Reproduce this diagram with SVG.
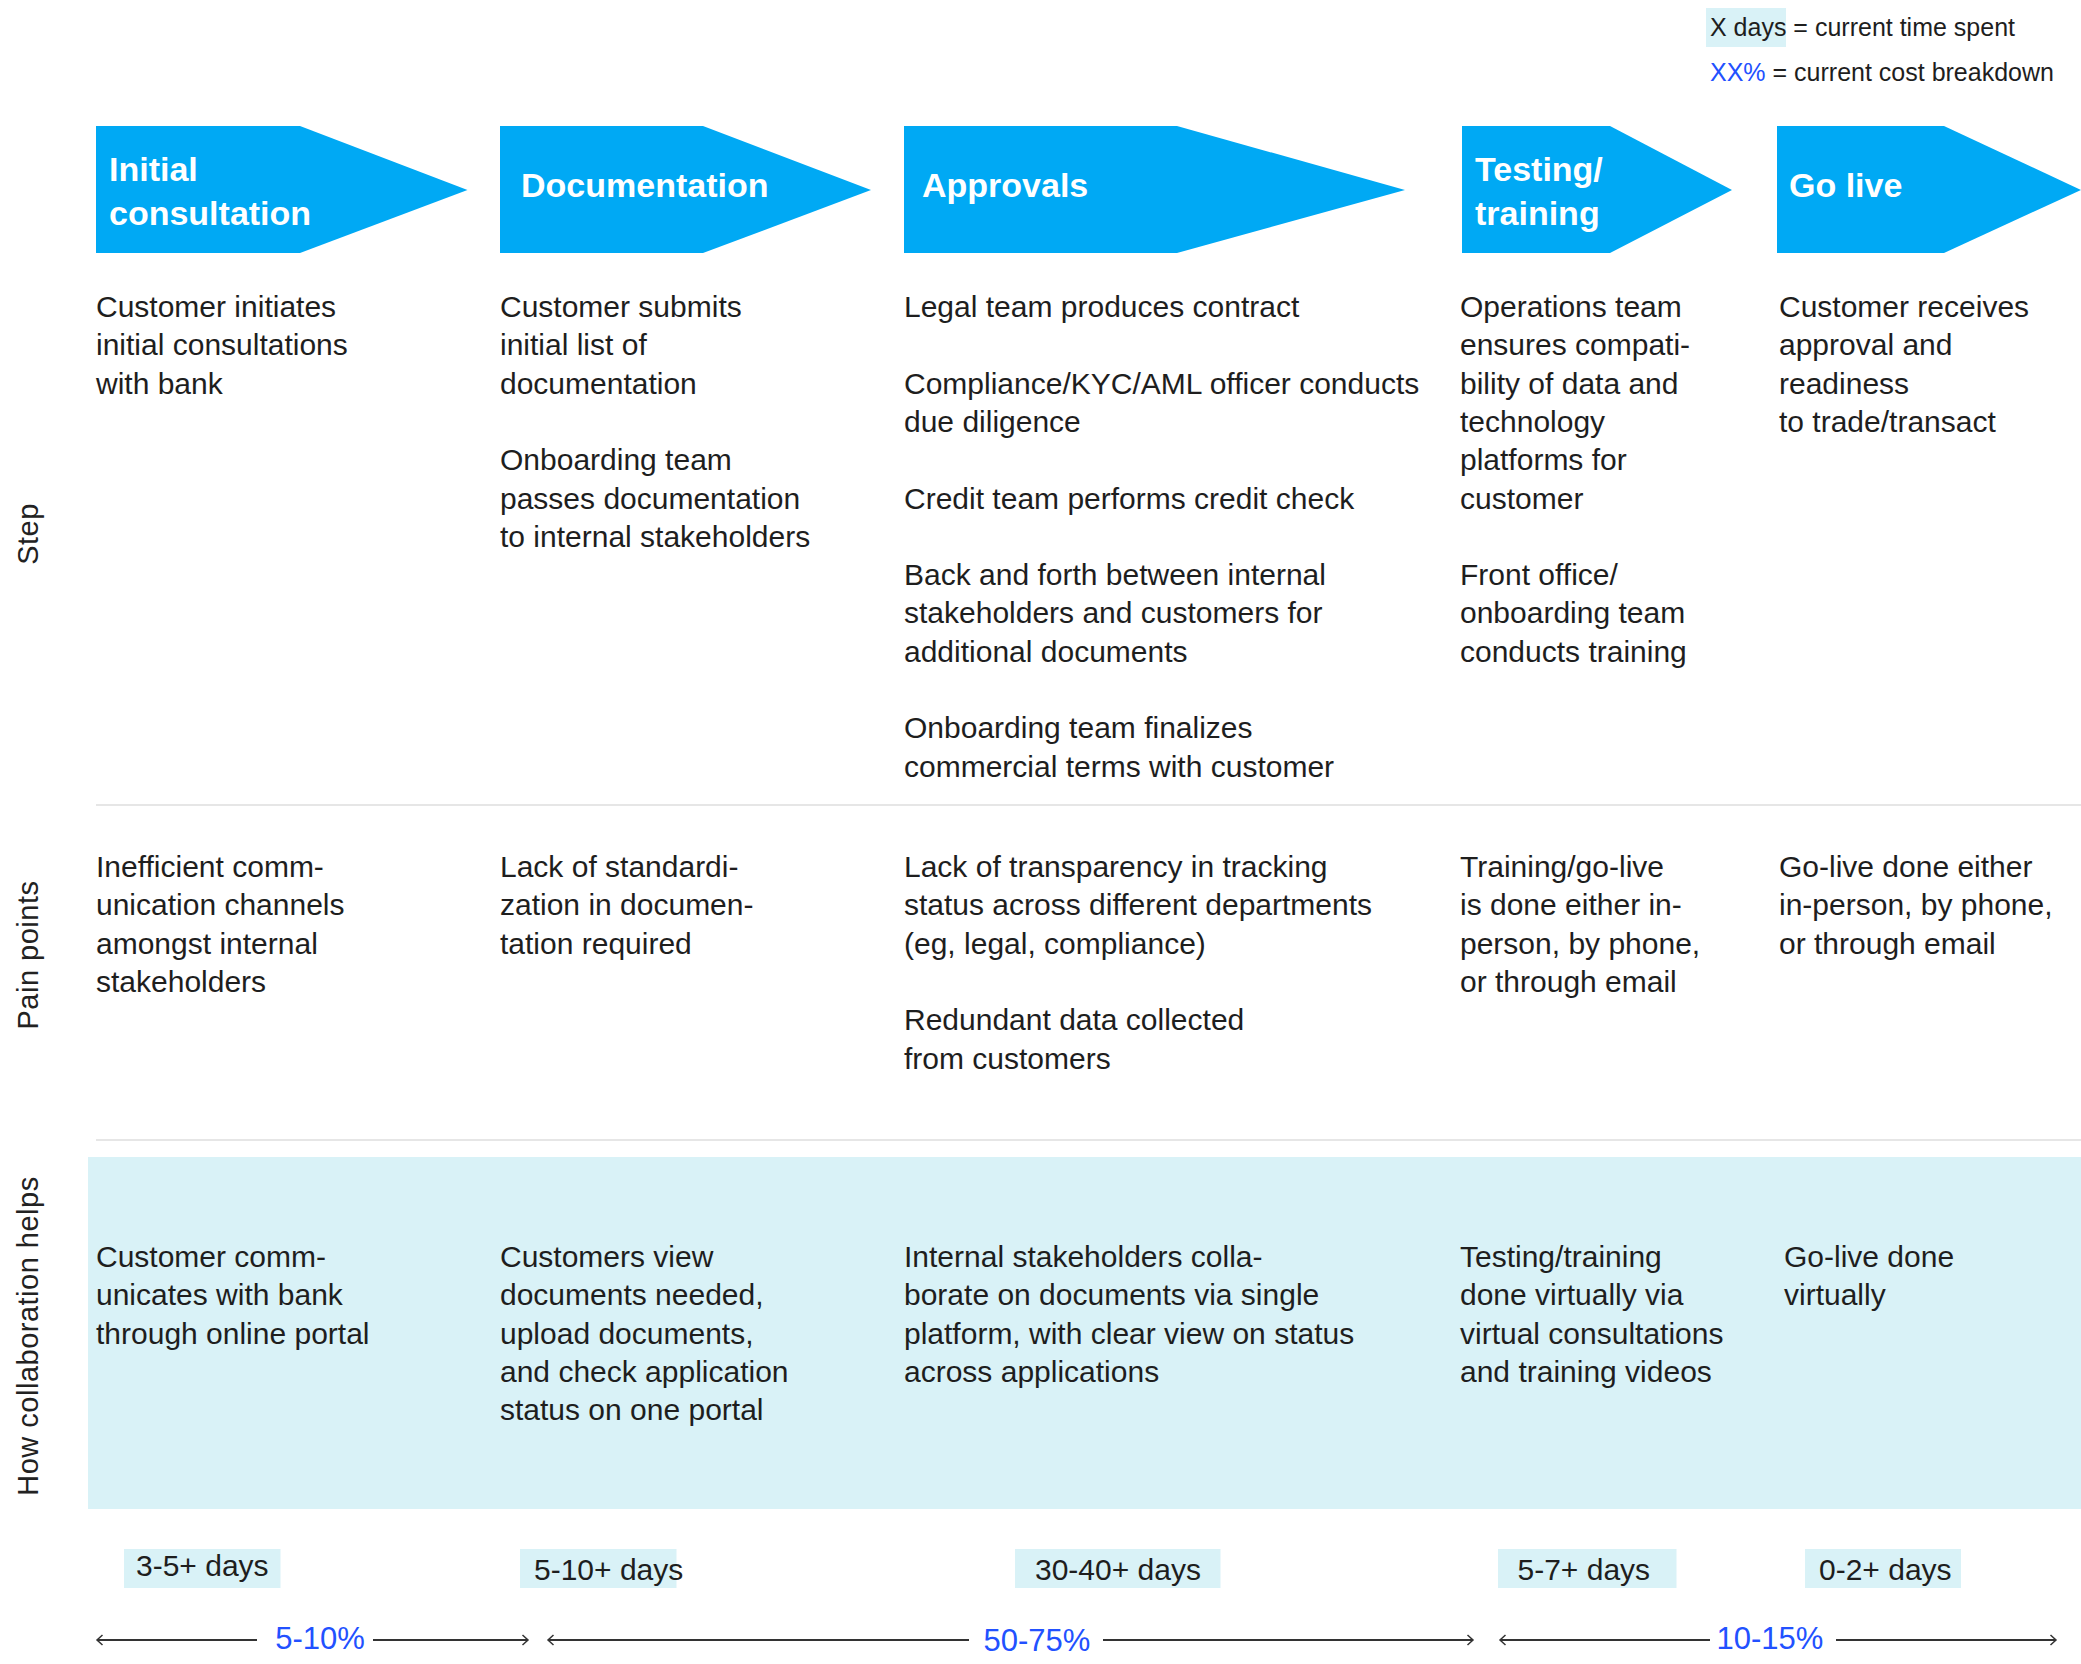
<svg xmlns="http://www.w3.org/2000/svg" width="2081" height="1664" viewBox="0 0 2081 1664">
<style>
  .hd{font-family:"Liberation Sans",Arial,sans-serif;font-size:34px;font-weight:bold;fill:#ffffff}
  .tx{font-family:"Liberation Sans",Arial,sans-serif;font-size:30px;fill:#1e1e1e}
  .lg{font-family:"Liberation Sans",Arial,sans-serif;font-size:25px;fill:#1e1e1e}
  .rl{font-family:"Liberation Sans",Arial,sans-serif;font-size:29px;fill:#222222;letter-spacing:0.5px}
  .pc{font-family:"Liberation Sans",Arial,sans-serif;font-size:31px;fill:#2251ff}
  .blue{fill:#2251ff}
  .arrow{fill:#00a9f4}
  .band{fill:#d9f2f7}
  .sep{stroke:#e6e6e6;stroke-width:2;fill:none}
  .conn{stroke:#333333;stroke-width:2;fill:none}
</style>
<defs>
  <marker id="open" viewBox="-7 -7 8 14" markerWidth="8" markerHeight="14" refX="0" refY="0" orient="auto-start-reverse" markerUnits="userSpaceOnUse" overflow="visible">
    <path d="M-5.5,-5 L0,0 L-5.5,5" fill="none" stroke="#333333" stroke-width="1.5"/>
  </marker>
</defs>
<rect width="2081" height="1664" fill="#ffffff"/>

<!-- legend -->
<g id="legend">
  <rect x="1706" y="8" width="80" height="39" class="band"/>
  <text class="lg" x="1710" y="36">X days = current time spent</text>
  <text class="lg" x="1710" y="81"><tspan class="blue">XX%</tspan> = current cost breakdown</text>
</g>

<!-- row labels -->
<g id="row-labels">
  <text class="rl" text-anchor="middle" transform="translate(38,534) rotate(-90)">Step</text>
  <text class="rl" text-anchor="middle" transform="translate(38,955) rotate(-90)">Pain points</text>
  <text class="rl" text-anchor="middle" transform="translate(38,1336) rotate(-90)">How collaboration helps</text>
</g>

<!-- band & separators -->
<rect x="88" y="1157" width="1993" height="352" class="band"/>
<line x1="96" y1="805" x2="2081" y2="805" class="sep"/>
<line x1="96" y1="1140" x2="2081" y2="1140" class="sep"/>

<!-- header arrows -->
<g id="step-initial-consultation">
  <path class="arrow" d="M96,126 H300 L467.5,190 L300,253 H96 Z"/>
  <text class="hd" x="109" y="181">Initial</text>
  <text class="hd" x="109" y="225">consultation</text>
</g>
<g id="step-documentation">
  <path class="arrow" d="M500,126 H703 L871,190 L703,253 H500 Z"/>
  <text class="hd" x="521" y="197">Documentation</text>
</g>
<g id="step-approvals">
  <path class="arrow" d="M904,126 H1177 L1405,190 L1177,253 H904 Z"/>
  <text class="hd" x="922" y="197">Approvals</text>
</g>
<g id="step-testing-training">
  <path class="arrow" d="M1462,126 H1610 L1732,190 L1610,253 H1462 Z"/>
  <text class="hd" x="1475" y="181">Testing/</text>
  <text class="hd" x="1475" y="225">training</text>
</g>
<g id="step-go-live">
  <path class="arrow" d="M1777,126 H1944 L2081,190 L1944,253 H1777 Z"/>
  <text class="hd" x="1789" y="197">Go live</text>
</g>

<!-- Step row -->
<g id="step-text-1">
  <text class="tx" x="96" y="317">Customer initiates</text>
  <text class="tx" x="96" y="355.3">initial consultations</text>
  <text class="tx" x="96" y="393.6">with bank</text>
</g>
<g id="step-text-2">
  <text class="tx" x="500" y="317">Customer submits</text>
  <text class="tx" x="500" y="355.3">initial list of</text>
  <text class="tx" x="500" y="393.6">documentation</text>
  <text class="tx" x="500" y="470.2">Onboarding team</text>
  <text class="tx" x="500" y="508.5">passes documentation</text>
  <text class="tx" x="500" y="546.8">to internal stakeholders</text>
</g>
<g id="step-text-3">
  <text class="tx" x="904" y="317">Legal team produces contract</text>
  <text class="tx" x="904" y="393.6">Compliance/KYC/AML officer conducts</text>
  <text class="tx" x="904" y="431.9">due diligence</text>
  <text class="tx" x="904" y="508.5">Credit team performs credit check</text>
  <text class="tx" x="904" y="585.1">Back and forth between internal</text>
  <text class="tx" x="904" y="623.4">stakeholders and customers for</text>
  <text class="tx" x="904" y="661.7">additional documents</text>
  <text class="tx" x="904" y="738.3">Onboarding team finalizes</text>
  <text class="tx" x="904" y="776.6">commercial terms with customer</text>
</g>
<g id="step-text-4">
  <text class="tx" x="1460" y="317">Operations team</text>
  <text class="tx" x="1460" y="355.3">ensures compati-</text>
  <text class="tx" x="1460" y="393.6">bility of data and</text>
  <text class="tx" x="1460" y="431.9">technology</text>
  <text class="tx" x="1460" y="470.2">platforms for</text>
  <text class="tx" x="1460" y="508.5">customer</text>
  <text class="tx" x="1460" y="585.1">Front office/</text>
  <text class="tx" x="1460" y="623.4">onboarding team</text>
  <text class="tx" x="1460" y="661.7">conducts training</text>
</g>
<g id="step-text-5">
  <text class="tx" x="1779" y="317">Customer receives</text>
  <text class="tx" x="1779" y="355.3">approval and</text>
  <text class="tx" x="1779" y="393.6">readiness</text>
  <text class="tx" x="1779" y="431.9">to trade/transact</text>
</g>

<!-- Pain points row -->
<g id="pain-text-1">
  <text class="tx" x="96" y="877">Inefficient comm-</text>
  <text class="tx" x="96" y="915.3">unication channels</text>
  <text class="tx" x="96" y="953.6">amongst internal</text>
  <text class="tx" x="96" y="991.9">stakeholders</text>
</g>
<g id="pain-text-2">
  <text class="tx" x="500" y="877">Lack of standardi-</text>
  <text class="tx" x="500" y="915.3">zation in documen-</text>
  <text class="tx" x="500" y="953.6">tation required</text>
</g>
<g id="pain-text-3">
  <text class="tx" x="904" y="877">Lack of transparency in tracking</text>
  <text class="tx" x="904" y="915.3">status across different departments</text>
  <text class="tx" x="904" y="953.6">(eg, legal, compliance)</text>
  <text class="tx" x="904" y="1030.2">Redundant data collected</text>
  <text class="tx" x="904" y="1068.5">from customers</text>
</g>
<g id="pain-text-4">
  <text class="tx" x="1460" y="877">Training/go-live</text>
  <text class="tx" x="1460" y="915.3">is done either in-</text>
  <text class="tx" x="1460" y="953.6">person, by phone,</text>
  <text class="tx" x="1460" y="991.9">or through email</text>
</g>
<g id="pain-text-5">
  <text class="tx" x="1779" y="877">Go-live done either</text>
  <text class="tx" x="1779" y="915.3">in-person, by phone,</text>
  <text class="tx" x="1779" y="953.6">or through email</text>
</g>

<!-- Collaboration row -->
<g id="collab-text-1">
  <text class="tx" x="96" y="1267">Customer comm-</text>
  <text class="tx" x="96" y="1305.3">unicates with bank</text>
  <text class="tx" x="96" y="1343.6">through online portal</text>
</g>
<g id="collab-text-2">
  <text class="tx" x="500" y="1267">Customers view</text>
  <text class="tx" x="500" y="1305.3">documents needed,</text>
  <text class="tx" x="500" y="1343.6">upload documents,</text>
  <text class="tx" x="500" y="1381.9">and check application</text>
  <text class="tx" x="500" y="1420.2">status on one portal</text>
</g>
<g id="collab-text-3">
  <text class="tx" x="904" y="1267">Internal stakeholders colla-</text>
  <text class="tx" x="904" y="1305.3">borate on documents via single</text>
  <text class="tx" x="904" y="1343.6">platform, with clear view on status</text>
  <text class="tx" x="904" y="1381.9">across applications</text>
</g>
<g id="collab-text-4">
  <text class="tx" x="1460" y="1267">Testing/training</text>
  <text class="tx" x="1460" y="1305.3">done virtually via</text>
  <text class="tx" x="1460" y="1343.6">virtual consultations</text>
  <text class="tx" x="1460" y="1381.9">and training videos</text>
</g>
<g id="collab-text-5">
  <text class="tx" x="1784" y="1267">Go-live done</text>
  <text class="tx" x="1784" y="1305.3">virtually</text>
</g>

<!-- days -->
<g id="days-1"><rect x="124" y="1549" width="156.5" height="39" class="band"/><text class="tx" x="136" y="1576">3-5+ days</text></g>
<g id="days-2"><rect x="520" y="1549" width="156.5" height="39" class="band"/><text class="tx" x="534" y="1580">5-10+ days</text></g>
<g id="days-3"><rect x="1015" y="1549" width="205.5" height="39" class="band"/><text class="tx" x="1035" y="1580">30-40+ days</text></g>
<g id="days-4"><rect x="1498" y="1549" width="178.5" height="39" class="band"/><text class="tx" x="1517.5" y="1580">5-7+ days</text></g>
<g id="days-5"><rect x="1805" y="1549" width="156" height="39" class="band"/><text class="tx" x="1819" y="1580">0-2+ days</text></g>

<!-- cost connectors -->
<g id="connectors">
  <line class="conn" x1="97" y1="1640" x2="257" y2="1640" marker-start="url(#open)"/>
  <line class="conn" x1="373" y1="1640" x2="528" y2="1640" marker-end="url(#open)"/>
  <line class="conn" x1="548" y1="1640" x2="969" y2="1640" marker-start="url(#open)"/>
  <line class="conn" x1="1103" y1="1640" x2="1473" y2="1640" marker-end="url(#open)"/>
  <line class="conn" x1="1500" y1="1640" x2="1710" y2="1640" marker-start="url(#open)"/>
  <line class="conn" x1="1836" y1="1640" x2="2056" y2="1640" marker-end="url(#open)"/>
  <text class="pc" x="320" y="1649" text-anchor="middle">5-10%</text>
  <text class="pc" x="1037" y="1651" text-anchor="middle">50-75%</text>
  <text class="pc" x="1770" y="1649" text-anchor="middle">10-15%</text>
</g>
</svg>
